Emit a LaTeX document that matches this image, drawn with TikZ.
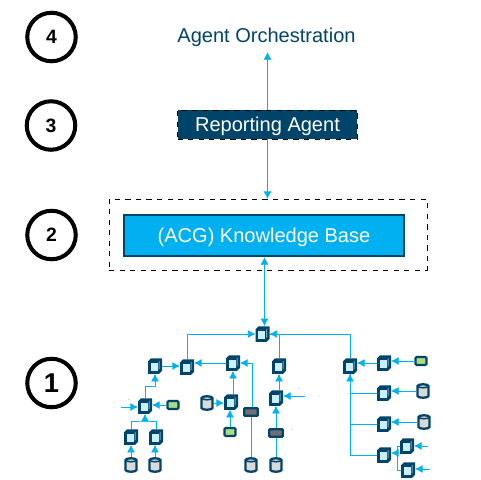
\documentclass[tikz,border=0pt]{standalone}
\usepackage{fontspec}
\setmainfont{Liberation Sans}
\usetikzlibrary{arrows.meta,positioning}
\definecolor{acgnavy}{RGB}{0,68,105}
\definecolor{acgblue}{RGB}{0,176,240}
\definecolor{acgpale}{RGB}{204,239,252}
\definecolor{acgside}{RGB}{110,175,205}
\definecolor{acggreen}{RGB}{169,221,128}
\definecolor{acgslate}{RGB}{112,112,112}
\definecolor{acgstore}{RGB}{217,217,217}
\tikzset{
    levelmark/.style={circle,draw=black,line width=2.3pt,minimum size=0.97cm,inner sep=0pt,font=\bfseries\fontsize{11}{11}\selectfont},
    titletext/.style={font=\fontsize{11.4}{12}\selectfont,inner sep=0pt,text depth=0pt},
    cubebox/.style={minimum width=0.28cm,minimum height=0.31cm,inner sep=0pt,outer sep=0pt},
    storebox/.style={minimum width=0.27cm,minimum height=0.32cm,inner sep=0pt,outer sep=0pt},
    greenbox/.style={draw=acgnavy,fill=acggreen,rounded corners=0.6pt,line width=1.2pt,minimum width=0.22cm,minimum height=0.16cm,inner sep=0pt,outer sep=0.5pt},
    slatebox/.style={draw=acgnavy,fill=acgslate,rounded corners=0.4pt,line width=1.2pt,minimum width=0.27cm,minimum height=0.15cm,inner sep=0pt,outer sep=0.5pt},
    flowline/.style={draw=acgblue,line width=0.55pt},
    flowarrow/.style={flowline,-{Latex[length=4.4pt,width=4.6pt]}},
    tinymark/.style={font=\fontsize{3}{3}\selectfont,text=acgslate,inner sep=0pt}
}
% one cube: the node is the outline, the faces go on top of it
\newcommand{\agentcube}[2]{
    \node[cubebox] (#1) at (#2) {};
    \fill[acgnavy] (#1.south west) -- ([yshift=0.25cm]#1.south west) -- ([xshift=0.06cm]#1.north west)
      -- (#1.north east) -- ([yshift=-0.25cm]#1.north east) -- ([xshift=-0.06cm]#1.south east) -- cycle;
    \fill[acgside] ([shift={(0.21cm,-0.07cm)}]#1.north west) -- ++(0.02cm,0.02cm) -- ++(0,-0.16cm) -- ++(-0.02cm,-0.02cm) -- cycle;
    \fill[acgpale] ([shift={(0.05cm,0.05cm)}]#1.south west) rectangle ++(0.14cm,0.17cm);
}
% one store: a drum round a node of the same size
\newcommand{\agentstore}[2]{
    \node[storebox] (#1) at (#2) {};
    \draw[acgnavy,fill=acgstore,line width=1.3pt] ([shift={(0.025cm,-0.06cm)}]#1.north west)
      arc[start angle=180,end angle=0,x radius=0.11cm,y radius=0.035cm] -- ++(0,-0.2cm)
      arc[start angle=0,end angle=-180,x radius=0.11cm,y radius=0.035cm] -- cycle;
    \draw[acgnavy,line width=0.9pt] ([shift={(0.025cm,-0.06cm)}]#1.north west)
      arc[start angle=180,end angle=360,x radius=0.11cm,y radius=0.035cm];
}
\begin{document}
\begin{tikzpicture}[x=0.02cm,y=-0.02cm]
    \useasboundingbox (0,0) rectangle (480,480);
    % level marks
    \node[levelmark] (markfour) at (51.5,37) {4};
    \node[levelmark] (markthree) at (51,125.5) {3};
    \node[levelmark] (marktwo) at (51.5,235) {2};
    \node[levelmark,font=\bfseries\fontsize{15.5}{15.5}\selectfont] (markone) at (51.5,383) {1};

    % upper boxes
    \node[titletext,text=acgnavy] (orchestration) at (266.5,35) {Agent Orchestration};
    \node[titletext,draw=black,dashed,line width=0.35pt,fill=acgnavy,text=white,
          minimum width=3.6cm,minimum height=0.58cm,outer sep=0pt] (reporting) at (267.5,124.5) {Reporting Agent};
    \node[draw=black,dashed,line width=0.5pt,minimum width=6.36cm,minimum height=1.42cm,outer sep=0pt] (kbframe) at (268,234.5) {};
    \node[titletext,draw=acgnavy,fill=acgblue,text=white,line width=1pt,
          minimum width=5.6cm,minimum height=0.82cm,outer sep=0pt] (kb) at (264,235.5) {(ACG) Knowledge Base};

    % cubes
    \agentcube{hub}{262.5,334}
    \agentcube{cubea}{155,366}
    \agentcube{cubeb}{187,367}
    \agentcube{cubec}{233,363}
    \agentcube{cubed}{145,406}
    \agentcube{cubee}{231,402}
    \agentcube{cubef}{279,366}
    \agentcube{cubeg}{276,398}
    \agentcube{cubeh}{131,437}
    \agentcube{cubei}{156,437}
    \agentcube{cubej}{350,366}
    \agentcube{cubek}{384,363}
    \agentcube{cubel}{384,393}
    \agentcube{cubem}{384,424}
    \agentcube{cuben}{384,455}
    \agentcube{cubeo}{407,446}
    \agentcube{cubep}{408,470}

    % stores and small boxes
    \agentstore{storea}{131,465}
    \agentstore{storeb}{155,465}
    \agentstore{storec}{251,465}
    \agentstore{stored}{276,465}
    \agentstore{storee}{207,403}
    \agentstore{storef}{423,391}
    \agentstore{storeg}{424,422}
    \node[greenbox] (greena) at (173,405) {};
    \node[greenbox] (greenb) at (230,432) {};
    \node[greenbox] (greenc) at (421,361) {};
    \node[slatebox] (slatea) at (251,412) {};
    \node[slatebox] (slateb) at (276,433) {};

    % free ends and small marks
    \coordinate (ind) at (121,407);
    \coordinate (ing) at (305,396);
    \coordinate (ino) at (428,446);
    \coordinate (inp) at (430,469);
    \coordinate (joinhi) at (145,421);
    \coordinate (joinon) at (397,453);
    \coordinate (kblink) at (264.5,257);
    \node[tinymark] (markd) at (129,401) {-};
    \node[tinymark] (markg) at (299,390) {-};
    \node[tinymark] (markb) at (292,431) {-};
    \node[tinymark] (marko) at (422,448) {-};
    \node[tinymark] (markp) at (425,472) {-};

    % upper connectors
    \draw[flowarrow] (reporting.north) -- ++(0,-58);
    \draw[flowarrow] (reporting.south) -- (kbframe.north -| reporting);
    \draw[flowline,{Latex[length=4.4pt,width=4.6pt]}-{Latex[length=4.4pt,width=4.6pt]}] (kblink) -- (kblink |- hub.north);

    % left branch
    \draw[flowarrow] (storea.north) -- (cubeh.south -| storea);
    \draw[flowarrow] (storeb.north) -- (cubei.south -| storeb);
    \draw[flowline] (cubeh.north) |- (joinhi) -| (cubei.north);
    \draw[flowarrow] (joinhi) -- (cubed.south);
    \draw[flowarrow] (ind) -- (cubed.west |- ind);
    \draw[flowarrow] (greena.west) -- (cubed.east |- greena);
    \draw[flowarrow] (cubed.north) |- (155,386) -- (cubea.south);
    \draw[flowarrow] (cubea.east) -- (cubeb.west |- cubea);
    \draw[flowarrow] (cubec.west) -- (cubeb.east |- cubec);
    \draw[flowarrow] (cubeb.north) |- (hub.west);

    % middle branch
    \draw[flowarrow] (storee.east) -- (cubee.west |- storee);
    \draw[flowarrow] (greenb.north) -- (cubee.south -| greenb);
    \draw[flowarrow] (cubee.north -| cubec) -- (cubec.south);
    \draw[flowline] (storec.north) -- (slatea.south);
    \draw[flowarrow] ([xshift=0.02cm]slatea.north) |- (cubec.east);
    \draw[flowline] (stored.north) -- (slateb.south);
    \draw[flowarrow] (slateb.north) -- (cubeg.south);
    \draw[flowarrow] (ing) -- (cubeg.east |- ing);
    \draw[flowarrow] (cubeg.north -| cubef) -- (cubef.south);
    \draw[flowline] (cubef.north) |- (hub.east);

    % right branch
    \draw[flowarrow] (cubej.north) |- (hub.east);
    \draw[flowarrow] (greenc.west) -- (cubek.east |- greenc);
    \draw[flowarrow] (cubek.west) -- (cubej.east |- cubek);
    \draw[flowarrow] (storef.west) -- (cubel.east |- storef);
    \draw[flowarrow] (storeg.west) -- (cubem.east |- storeg);
    \draw[flowarrow] (cuben.west) -| (cubej.south);
    \draw[flowline] (cubel.west) -| (cubej.south);
    \draw[flowline] (cubem.west) -| (cubej.south);
    \draw[flowarrow] (joinon) -- (cuben.east |- joinon);
    \draw[flowline] (cubeo.west) -| (joinon);
    \draw[flowline] (cubep.west) -| (joinon);
    \draw[flowarrow] (ino) -- (cubeo.east |- ino);
    \draw[flowarrow] (inp) -- (cubep.east |- inp);
\end{tikzpicture}
\end{document}
